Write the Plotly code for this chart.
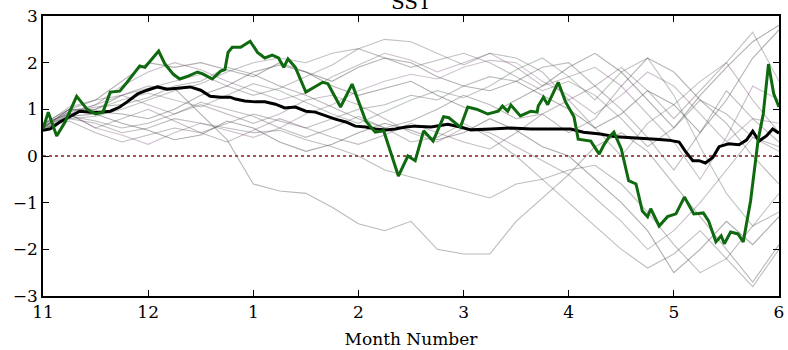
import plotly.graph_objects as go

# Month axis: 0 = start of November, 7 = start of June
month_ticks = [0, 1, 2, 3, 4, 5, 6, 7]
month_labels = ["11", "12", "1", "2", "3", "4", "5", "6"]

# Observed SST anomaly (fractional month, value)
obs_t = [0.00, 0.05, 0.13, 0.21, 0.32, 0.42, 0.50, 0.57, 0.64, 0.73, 0.80, 0.92,
         0.97, 1.02, 1.10, 1.16, 1.24, 1.30, 1.38, 1.47, 1.52, 1.61, 1.69, 1.73,
         1.76, 1.80, 1.88, 1.97, 2.04, 2.11, 2.18, 2.24, 2.29, 2.33, 2.40, 2.50,
         2.56, 2.66, 2.71, 2.83, 2.94, 3.07, 3.16, 3.24, 3.38, 3.47, 3.54, 3.62,
         3.71, 3.81, 3.86, 3.97, 4.04, 4.13, 4.23, 4.33, 4.37, 4.42, 4.45, 4.54,
         4.64, 4.70, 4.71, 4.76, 4.80, 4.90, 4.97, 5.05, 5.09, 5.21, 5.29, 5.33,
         5.38, 5.43, 5.50, 5.57, 5.64, 5.70, 5.75, 5.78, 5.86, 5.94, 6.02, 6.10,
         6.19, 6.28, 6.33, 6.40, 6.45, 6.48, 6.54, 6.61, 6.66, 6.73, 6.80, 6.85,
         6.90, 6.95, 7.00]
obs_v = [0.58, 0.94, 0.43, 0.73, 1.28, 1.00, 0.90, 0.94, 1.37, 1.39, 1.58, 1.93,
         1.90, 2.03, 2.25, 1.97, 1.75, 1.65, 1.71, 1.80, 1.76, 1.65, 1.82, 1.85,
         2.22, 2.33, 2.33, 2.46, 2.22, 2.10, 2.16, 2.10, 1.90, 2.08, 1.90, 1.37,
         1.45, 1.58, 1.55, 1.05, 1.54, 0.75, 0.51, 0.54, -0.43, 0.00, -0.10, 0.54,
         0.32, 0.84, 0.82, 0.62, 1.05, 1.00, 0.90, 0.96, 1.07, 0.96, 1.09, 0.86,
         0.96, 0.94, 1.07, 1.26, 1.10, 1.58, 1.16, 0.84, 0.36, 0.32, 0.04, 0.22,
         0.40, 0.51, 0.15, -0.53, -0.60, -1.18, -1.30, -1.13, -1.50, -1.30, -1.24, -0.88,
         -1.24, -1.22, -1.39, -1.84, -1.71, -1.88, -1.63, -1.67, -1.84, -0.96, 0.32, 0.90,
         1.97, 1.33, 1.05]

# Ensemble mean (fractional month, value)
mean_t = [0.00, 0.07, 0.16, 0.29, 0.35, 0.45, 0.54, 0.64, 0.73, 0.80, 0.90, 0.99,
          1.09, 1.18, 1.30, 1.40, 1.50, 1.59, 1.69, 1.78, 1.83, 1.92, 2.02, 2.11,
          2.21, 2.30, 2.40, 2.50, 2.59, 2.69, 2.78, 2.88, 2.97, 3.07, 3.16, 3.26,
          3.35, 3.45, 3.54, 3.69, 3.85, 3.97, 4.07, 4.26, 4.45, 4.64, 4.83, 5.02,
          5.14, 5.30, 5.45, 5.64, 5.83, 5.95, 6.05, 6.11, 6.18, 6.24, 6.30, 6.37,
          6.43, 6.52, 6.62, 6.69, 6.75, 6.81, 6.88, 6.94, 7.00]
mean_v = [0.55, 0.58, 0.73, 0.90, 0.96, 0.94, 0.94, 0.96, 1.05, 1.16, 1.33, 1.41,
          1.48, 1.43, 1.46, 1.48, 1.41, 1.28, 1.26, 1.26, 1.22, 1.18, 1.16, 1.16,
          1.11, 1.03, 1.05, 0.96, 0.94, 0.86, 0.79, 0.73, 0.64, 0.62, 0.58, 0.56,
          0.58, 0.62, 0.64, 0.62, 0.68, 0.62, 0.56, 0.58, 0.60, 0.58, 0.58, 0.58,
          0.51, 0.47, 0.41, 0.39, 0.36, 0.34, 0.30, 0.10, -0.10, -0.10, -0.15, -0.03,
          0.20, 0.26, 0.24, 0.34, 0.53, 0.32, 0.43, 0.58, 0.49]

# Ensemble members, sampled every quarter month from 0 to 7
member_t = [0.00, 0.25, 0.50, 0.75, 1.00, 1.25, 1.50, 1.75, 2.00, 2.25, 2.50, 2.75,
            3.00, 3.25, 3.50, 3.75, 4.00, 4.25, 4.50, 4.75, 5.00, 5.25, 5.50, 5.75,
            6.00, 6.25, 6.50, 6.75, 7.00]
members = [
    [0.60, 1.00, 1.20, 1.60, 2.00, 1.90, 2.00, 1.85, 1.70, 2.00, 1.80, 1.60, 1.90, 2.10, 2.00,
     1.70, 1.50, 1.40, 1.60, 1.30, 1.00, 0.60, 0.90, 1.40, 1.10, 0.50, 1.20, 2.10, 2.70],
    [0.65, 0.95, 1.10, 1.50, 1.80, 2.00, 1.85, 1.60, 1.40, 1.20, 1.35, 1.70, 1.95, 2.20, 2.05,
     1.80, 2.00, 2.20, 1.90, 1.50, 1.70, 1.90, 1.50, 0.90, 0.30, -0.50, 0.40, 1.50, 1.20],
    [0.60, 1.00, 1.00, 1.30, 1.50, 1.45, 0.90, 0.35, -0.60, -0.75, -0.80, -1.10, -1.45, -1.60, -1.40,
     -2.00, -2.10, -2.10, -1.40, -0.90, -0.40, 0.20, 0.50, 0.10, -0.60, -1.30, -2.00, -2.70, -1.90],
    [0.55, 0.80, 0.70, 0.50, 0.60, 0.80, 0.70, 0.60, 0.50, 0.55, 0.35, 0.20, 0.00, -0.30, -0.45,
     -0.60, -0.75, -0.90, -0.60, -0.50, -0.30, -0.20, -0.60, -1.20, -1.90, -2.50, -2.20, -1.50, -1.20],
    [0.60, 0.75, 0.50, 0.30, 0.45, 0.60, 0.50, 0.70, 0.90, 0.75, 0.60, 0.80, 1.00, 1.10, 1.30,
     1.20, 1.50, 1.70, 1.60, 1.90, 2.00, 1.50, 1.00, 0.40, -0.30, 0.50, 1.40, 0.80, 0.30],
    [0.70, 0.90, 0.60, 0.45, 0.25, 0.50, 0.70, 0.55, 0.40, 0.60, 0.90, 1.10, 1.40, 1.60, 1.75,
     1.65, 1.90, 2.05, 2.00, 1.60, 1.30, 0.90, 1.30, 1.80, 1.50, 0.90, 0.30, 0.80, 0.70],
    [0.55, 0.85, 0.90, 0.70, 0.55, 0.35, 0.45, 0.75, 0.60, 0.30, 0.10, 0.25, 0.50, 0.70, 0.55,
     0.35, 0.50, 0.80, 0.55, 0.20, 0.00, -0.50, -1.00, -1.60, -2.50, -2.00, -1.40, -1.90, -1.30],
    [0.65, 1.05, 1.20, 1.30, 1.45, 1.60, 1.75, 1.50, 1.30, 1.45, 1.70, 1.95, 2.30, 2.50, 2.45,
     2.20, 1.95, 2.20, 2.10, 1.80, 1.20, 0.60, 0.00, 0.70, 1.10, 1.60, 2.00, 2.65, 1.60],
    [0.60, 0.90, 1.00, 1.20, 1.35, 1.20, 1.05, 1.30, 1.55, 1.40, 1.15, 0.90, 0.70, 0.95, 1.20,
     1.40, 1.25, 1.50, 1.85, 2.10, 1.70, 1.20, 1.80, 2.10, 1.30, 0.20, -0.80, -1.50, -0.80],
    [0.70, 1.00, 0.95, 0.90, 0.80, 1.00, 1.30, 1.50, 1.80, 1.95, 1.80, 1.50, 1.30, 1.45, 1.60,
     1.30, 1.05, 0.90, 1.20, 1.50, 1.90, 2.20, 1.80, 1.20, 0.60, 1.30, 1.90, 2.45, 2.80],
    [0.55, 0.90, 1.10, 1.30, 1.10, 0.90, 1.10, 0.90, 0.70, 0.90, 1.20, 1.30, 1.10, 0.80, 0.50,
     0.30, 0.60, 0.50, 0.20, -0.10, -0.40, -0.90, -1.40, -2.00, -1.60, -1.00, -0.30, 0.40, 0.10],
    [0.60, 0.95, 1.05, 1.10, 1.25, 1.50, 1.60, 1.90, 1.75, 1.50, 1.30, 1.05, 0.80, 0.60, 0.75,
     1.00, 1.30, 1.10, 0.80, 0.90, 0.50, 0.80, 1.50, 2.10, 1.80, 1.20, 0.70, 0.00, -0.60],
    [0.65, 0.85, 0.75, 0.60, 0.70, 0.90, 1.15, 1.00, 0.85, 0.60, 0.40, 0.60, 0.85, 0.60, 0.30,
     0.40, 0.70, 0.40, 0.00, -0.50, -1.00, -1.50, -2.00, -2.40, -2.10, -1.60, -2.20, -2.80, -2.00],
    [0.60, 0.80, 0.85, 1.00, 1.20, 1.40, 1.55, 1.80, 2.00, 2.10, 2.00, 2.20, 2.30, 2.10, 1.90,
     2.05, 2.20, 2.00, 1.70, 1.40, 1.60, 1.30, 0.80, 0.20, 0.60, 1.20, 0.90, 0.40, 0.20],
    [0.70, 0.90, 0.60, 0.80, 1.00, 0.75, 0.50, 0.30, 0.55, 0.80, 0.60, 0.40, 0.25, 0.45, 0.70,
     0.50, 0.30, 0.15, 0.50, 0.90, 1.20, 1.50, 1.90, 1.40, 0.80, 1.40, 2.00, 1.20, 0.50],
]
member_colors = [
    "rgba(60,60,60,0.40)", "rgba(110,70,110,0.35)", "rgba(80,80,80,0.40)",
    "rgba(70,70,70,0.35)", "rgba(90,90,90,0.40)", "rgba(120,80,120,0.35)",
    "rgba(50,50,50,0.40)", "rgba(80,80,80,0.35)", "rgba(70,100,70,0.35)",
    "rgba(60,60,60,0.40)", "rgba(100,70,100,0.35)", "rgba(80,80,80,0.40)",
    "rgba(70,70,70,0.35)", "rgba(100,100,100,0.40)", "rgba(90,60,90,0.35)",
]

serif = "DejaVu Serif"
fig = go.Figure()

# zero reference line
fig.add_trace(go.Scatter(x=[month_ticks[0], month_ticks[-1]], y=[0, 0], mode="lines",
                         line=dict(color="rgb(130,30,30)", width=1.3, dash="dot"),
                         hoverinfo="skip", showlegend=False))

for vals, col in zip(members, member_colors):
    fig.add_trace(go.Scatter(x=member_t, y=vals, mode="lines",
                             line=dict(color=col, width=1.1),
                             showlegend=False))

fig.add_trace(go.Scatter(x=mean_t, y=mean_v, mode="lines",
                         line=dict(color="black", width=3), showlegend=False))
fig.add_trace(go.Scatter(x=obs_t, y=obs_v, mode="lines",
                         line=dict(color="rgb(15,105,15)", width=3), showlegend=False))

axis_common = dict(showgrid=False, zeroline=False, showline=True, linecolor="black",
                   linewidth=1.5, mirror="ticks", ticks="inside", ticklen=6,
                   tickwidth=1, tickcolor="black",
                   tickfont=dict(family=serif, size=17, color="black"))

fig.update_xaxes(range=[0, 7], tickvals=month_ticks, ticktext=month_labels,
                 title=dict(text="Month Number", font=dict(family=serif, size=17, color="black"),
                            standoff=12),
                 **axis_common)
fig.update_yaxes(range=[-3, 3], tickvals=[-3, -2, -1, 0, 1, 2, 3], **axis_common)

fig.add_annotation(text="SST", xref="paper", yref="paper", x=0.5, y=1,
                   xanchor="center", yanchor="bottom", yshift=0, showarrow=False,
                   font=dict(family=serif, size=20, color="black"))

fig.update_layout(width=788, height=350, margin=dict(l=43, r=4, t=16, b=53),
                  paper_bgcolor="white", plot_bgcolor="white", showlegend=False)

fig.write_html("out.html")
